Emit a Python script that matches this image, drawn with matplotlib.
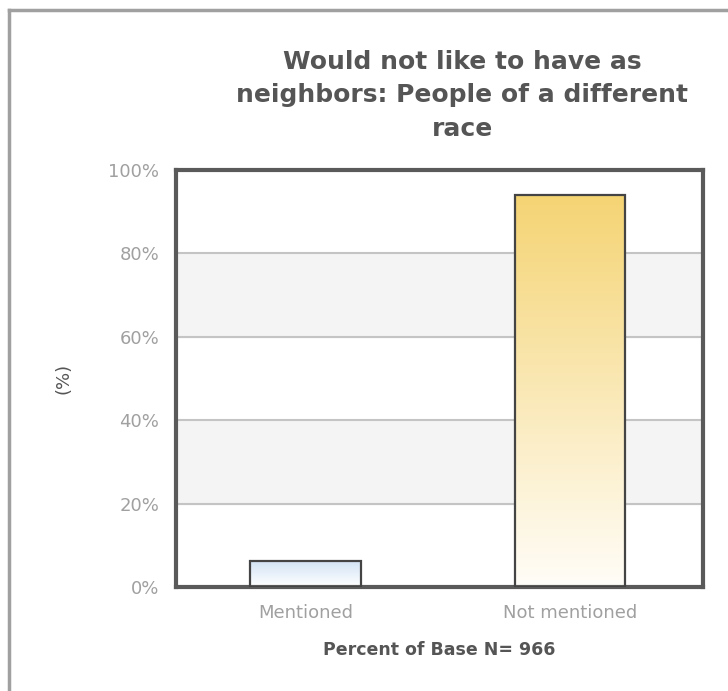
import numpy as np
import matplotlib.pyplot as plt
from matplotlib.lines import Line2D
from matplotlib.colors import to_rgb

categories = ['Mentioned', 'Not mentioned']
values = [6.2, 94.0]
yticks = [0, 20, 40, 60, 80, 100]
ytick_labels = ['0%', '20%', '40%', '60%', '80%', '100%']

top_colors = ['#d3e4f5', '#f5d474']
bottom_colors = ['#ffffff', '#fffdf8']

fig = plt.figure(figsize=(7.28, 6.91), dpi=100)
ax = fig.add_axes([0.2418, 0.1505, 0.724, 0.6035])

# alternating background bands
for i, lo in enumerate(yticks[:-1]):
    if i % 2 == 1:
        ax.axhspan(lo, yticks[i + 1], color='#f4f4f4', zorder=0)
for y in yticks[1:-1]:
    ax.axhline(y, color='#c4c4c4', lw=1.5, zorder=1)

x = np.arange(len(categories))
bars = ax.bar(x, values, width=0.42, facecolor='none', edgecolor='#444444',
              linewidth=1.6, zorder=3)

# vertical gradient fill clipped to each bar
for bar, c_top, c_bot in zip(bars, top_colors, bottom_colors):
    x0, y0 = bar.get_x(), bar.get_y()
    w, h = bar.get_width(), bar.get_height()
    t = np.linspace(0, 1, 256)[:, None, None]
    grad = np.array(to_rgb(c_bot)) * (1 - t) + np.array(to_rgb(c_top)) * t
    grad = np.repeat(grad, 2, axis=1)
    im = ax.imshow(grad, extent=[x0, x0 + w, y0, y0 + h], origin='lower',
                   aspect='auto', zorder=2)
    im.set_clip_path(bar)

ax.set_xlim(-0.492, 1.504)
ax.set_ylim(0, 100)
ax.set_yticks(yticks)
ax.set_yticklabels(ytick_labels)
ax.set_xticks(x)
ax.set_xticklabels(categories)
ax.tick_params(length=0, labelsize=13, labelcolor='#a0a0a0', pad=12)

for s in ax.spines.values():
    s.set_color('#5a5a5a')
    s.set_linewidth(3)

ax.set_ylabel('(%)', fontsize=13, color='#555555', labelpad=26)
ax.set_xlabel('Percent of Base N= 966', fontsize=12.5, fontweight='bold',
              color='#555555', labelpad=14)

fig.text(0.635, 0.928, 'Would not like to have as\nneighbors: People of a different\nrace',
         ha='center', va='top', fontsize=18, fontweight='bold', color='#555555',
         linespacing=1.5)

# outer frame (left and top edges)
fig.add_artist(Line2D([0.012, 0.012], [0.0, 0.986], transform=fig.transFigure,
                      color='#a0a0a0', lw=2.5))
fig.add_artist(Line2D([0.012, 1.0], [0.986, 0.986], transform=fig.transFigure,
                      color='#a0a0a0', lw=2.5))

fig.savefig('out.png', dpi=100)
